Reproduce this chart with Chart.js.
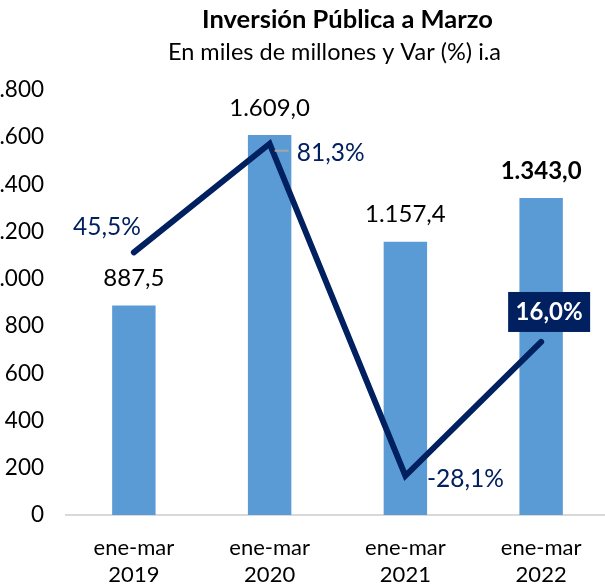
<!DOCTYPE html>
<html lang="es">
<head>
<meta charset="utf-8">
<title>Inversión Pública a Marzo</title>
<script src="https://cdn.jsdelivr.net/npm/chart.js@4/dist/chart.umd.min.js"></script>
<style>
  html, body { margin: 0; padding: 0; background: #fff; overflow: hidden; }
  #wrap { position: absolute; left: -24px; top: 0; width: 634px; height: 585px; }
</style>
</head>
<body>
<div id="wrap"><canvas id="chart"></canvas></div>
<script>
  const CATEGORIES = [["ene-mar", "2019"], ["ene-mar", "2020"], ["ene-mar", "2021"], ["ene-mar", "2022"]];
  const INVERSION = [887.5, 1609.0, 1157.4, 1343.0];
  const VARIACION = [45.5, 81.3, -28.1, 16.0];
  const Y_TICKS = [0, 200, 400, 600, 800, 1000, 1200, 1400, 1600, 1800];

  const FONT = "Lato";
  const BAR_COLOR = "#5B9BD5";
  const LINE_COLOR = "#002060";

  // 1609 -> "1.609,0"
  function fmtNum(v, dec) {
    const parts = Math.abs(v).toFixed(dec).split(".");
    const int = parts[0].replace(/\B(?=(\d{3})+(?!\d))/g, ".");
    return (v < 0 ? "-" : "") + int + (parts[1] !== undefined ? "," + parts[1] : "");
  }

  // label offsets from each line point (px)
  const PCT_OFFSETS = [[-27, -25], [61, 9], [60, 3], [8, -30]];

  const labelsPlugin = {
    id: "labelsPlugin",
    afterDatasetsDraw(chart) {
      const ctx = chart.ctx;
      const area = chart.chartArea;
      ctx.save();
      ctx.textAlign = "center";
      ctx.textBaseline = "middle";

      // titles
      const cx = (area.left + area.right) / 2;
      ctx.fillStyle = "#000";
      ctx.font = `bold 25.5px ${FONT}`;
      ctx.fillText("Inversión Pública a Marzo", cx + 10, 20);
      ctx.font = `23.5px ${FONT}`;
      ctx.fillText("En miles de millones y Var (%) i.a", cx - 3, 52);

      // bar values
      const bars = chart.getDatasetMeta(0).data;
      bars.forEach((bar, i) => {
        const last = i === bars.length - 1;
        ctx.font = `${last ? "bold " : ""}24px ${FONT}`;
        ctx.fillStyle = "#000";
        ctx.fillText(fmtNum(INVERSION[i], 1), bar.x, bar.y - 27);
      });

      // line values
      const pts = chart.getDatasetMeta(1).data;
      pts.forEach((pt, i) => {
        const [dx, dy] = PCT_OFFSETS[i];
        const txt = fmtNum(VARIACION[i], 1) + "%";
        const x = pt.x + dx;
        const y = pt.y + dy;
        if (i === pts.length - 1) {
          ctx.fillStyle = LINE_COLOR;
          ctx.fillRect(x - 41, y - 20, 82, 40);
          ctx.font = `bold 24px ${FONT}`;
          ctx.fillStyle = "#fff";
        } else {
          ctx.font = `24.5px ${FONT}`;
          ctx.fillStyle = LINE_COLOR;
        }
        ctx.fillText(txt, x, y);
        if (i === 1) {
          ctx.strokeStyle = "#A6A6A6";
          ctx.lineWidth = 2;
          ctx.beginPath();
          ctx.moveTo(pt.x + 5, pt.y + 7);
          ctx.lineTo(pt.x + 19, pt.y + 7);
          ctx.stroke();
        }
      });
      ctx.restore();
    },
  };

  Chart.defaults.font.family = FONT;
  Chart.defaults.color = "#000";

  new Chart(document.getElementById("chart"), {
    data: {
      labels: CATEGORIES,
      datasets: [
        {
          type: "bar",
          label: "Inversión",
          data: INVERSION,
          backgroundColor: BAR_COLOR,
          categoryPercentage: 1,
          barPercentage: 0.32,
          yAxisID: "y",
          order: 2,
        },
        {
          type: "line",
          label: "Var (%)",
          data: VARIACION,
          borderColor: LINE_COLOR,
          borderWidth: 6,
          borderCapStyle: "round",
          pointRadius: 0,
          tension: 0,
          yAxisID: "y1",
          order: 1,
        },
      ],
    },
    options: {
      responsive: true,
      maintainAspectRatio: false,
      animation: false,
      layout: { padding: { top: 90, right: 1, bottom: 0, left: 0 } },
      plugins: {
        legend: { display: false },
        tooltip: { enabled: false },
      },
      scales: {
        x: {
          grid: { display: false, drawTicks: false },
          border: { display: true, color: "#D9D9D9", width: 2 },
          ticks: { color: "#000", font: { size: 22, lineHeight: 1.25 }, padding: 19, maxRotation: 0 },
          afterFit(scale) { scale.height = 70; },
        },
        y: {
          min: 0,
          max: 1800,
          grid: { display: false, drawTicks: false },
          border: { display: false },
          ticks: { color: "#000", font: { size: 22.5 }, padding: 22, callback: (v) => fmtNum(v, 0) },
          afterBuildTicks(scale) { scale.ticks = Y_TICKS.map((v) => ({ value: v })); },
          afterFit(scale) { scale.width = 90; },
        },
        y1: { display: false, min: -41, max: 99 },
      },
    },
    plugins: [labelsPlugin],
  });
</script>
</body>
</html>
